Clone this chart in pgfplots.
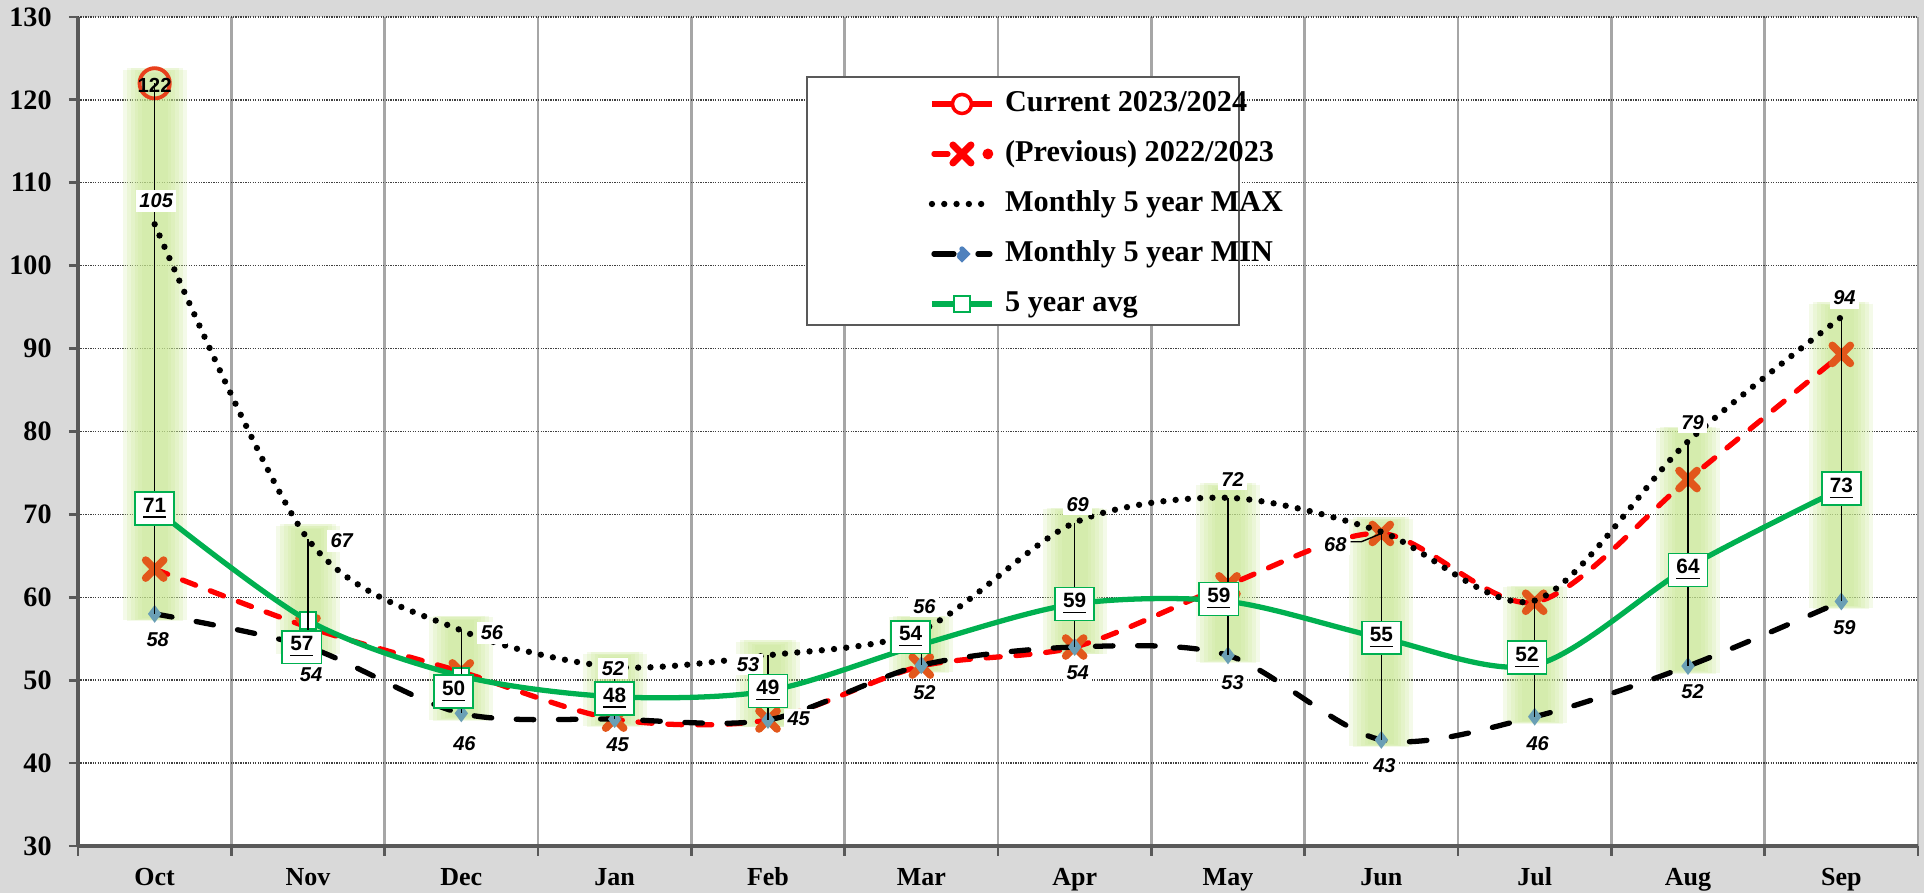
\documentclass[border=0pt]{standalone}
\usepackage{fontspec}
\setmainfont{Liberation Serif}
\newfontfamily\lsans{Liberation Sans}
\usepackage{pgfplots}
\usepackage{pgfplotstable}
\pgfplotsset{compat=1.18}
\definecolor{bgGray}{HTML}{D9D9D9}
\definecolor{axGray}{HTML}{595959}
\definecolor{gridV}{HTML}{A6A6A6}
\definecolor{gridH}{HTML}{404040}
\definecolor{curRed}{HTML}{E8401C}
\definecolor{prevRed}{HTML}{FF0000}
\definecolor{xOrange}{HTML}{E2571B}
\definecolor{avgGreen}{HTML}{00B050}
\definecolor{minDia}{HTML}{6A9FB5}
\definecolor{legDia}{HTML}{4F81BD}
\definecolor{glow}{HTML}{C8E891}

% month index, current season, previous season, 5y max, 5y min, 5y avg, top of hi-lo line
\pgfplotstableread{
x  cur  prev  max   min   avg   hi
0  122  63.4  105   58.0  70.7  122
1  nan  56.4  67    54.0  57.2  67
2  nan  51.0  56    46.0  50.5  56
3  nan  45.3  51.6  45.3  48.0  51.6
4  nan  45.2  53    45.2  48.7  53
5  nan  51.7  56    51.8  54.3  56
6  nan  54.0  69    54.0  59.2  69
7  nan  61.5  72    53.0  59.5  72
8  nan  67.7  67.9  42.8  55.1  67.9
9  nan  59.4  59.6  45.6  51.8  59.6
10 nan  74.2  78.8  51.7  63.6  78.8
11 nan  89.3  93.8  59.5  73.1  93.8
}\data

\tikzset{
  mlbl/.style={fill=white, inner sep=1pt, font=\lsans\bfseries\itshape\fontsize{5.7}{6}\selectfont},
  albl/.style={fill=white, draw=avgGreen, line width=0.5pt, inner xsep=2.3pt, inner ysep=1.6pt,
               font=\lsans\bfseries\fontsize{5.9}{6}\selectfont},
}
\pgfplotsset{
  glowbar/.style={draw=none, mark=none, forget plot,
    error bars/.cd, y dir=minus, y explicit, error mark=none,
    error bar style={draw=glow, line width=#1, draw opacity=0.2}},
}

\begin{document}
\begin{tikzpicture}
\path[use as bounding box, fill=bgGray] (0,0) rectangle (192.4mm,89.3mm);
\begin{axis}[
  at={(7.8mm,4.7mm)}, anchor=south west,
  scale only axis, width=184mm, height=82.9mm,
  xmin=-0.5, xmax=11.5, ymin=30, ymax=130,
  clip=false, clip marker paths=true,
  axis background/.style={fill=white},
  axis x line*=bottom, axis y line*=left,
  axis line style={axGray, line width=1pt, -},
  xtick={0,...,11},
  xticklabels={Oct,Nov,Dec,Jan,Feb,Mar,Apr,May,Jun,Jul,Aug,Sep},
  minor xtick={-0.5,0.5,...,11.5},
  ytick={30,40,...,130},
  tick align=outside,
  major x tick style={draw=none},
  minor tick length=1mm, major tick length=0.9mm,
  tick style={axGray, line width=0.8pt},
  xminorgrids=true, ymajorgrids=true,
  minor grid style={gridV, line width=0.7pt, solid},
  major grid style={gridH, line width=0.4pt, dash pattern=on 0.35pt off 0.35pt},
  /pgf/number format/assume math mode=true,
  yticklabel style={font=\bfseries\fontsize{8}{9}\selectfont, xshift=-0.5mm},
  xticklabel style={font=\bfseries\fontsize{7.4}{8}\selectfont, anchor=base, yshift=-3.1mm},
  legend cell align=left,
  legend style={draw=none, fill=none, at={(0.462,0.914)}, anchor=north west,
    inner sep=0pt, row sep=2.0mm, column sep=1mm,
    nodes={inner sep=0pt, text height=2.3mm, text depth=0.7mm},
    font=\bfseries\fontsize{8.6}{9}\selectfont},
]
% soft glow behind the high-low lines
\addplot[glowbar=6.4mm] table[x=x, y expr=\thisrow{hi}+1.6, y error minus expr=\thisrow{hi}-\thisrow{min}+2.4] {\data};
\addplot[glowbar=5.6mm] table[x=x, y expr=\thisrow{hi}+1.8, y error minus expr=\thisrow{hi}-\thisrow{min}+2.7] {\data};
\addplot[glowbar=4.8mm] table[x=x, y expr=\thisrow{hi}+1.8, y error minus expr=\thisrow{hi}-\thisrow{min}+2.6] {\data};
\addplot[glowbar=4.0mm] table[x=x, y expr=\thisrow{hi}+1.6, y error minus expr=\thisrow{hi}-\thisrow{min}+2.3] {\data};
\addplot[glowbar=3.3mm] table[x=x, y expr=\thisrow{hi}+1.4, y error minus expr=\thisrow{hi}-\thisrow{min}+2.0] {\data};
\addplot[glowbar=2.6mm] table[x=x, y expr=\thisrow{hi}+1.2, y error minus expr=\thisrow{hi}-\thisrow{min}+1.7] {\data};

\addplot[prevRed, line width=1.5pt, mark=o, mark size=4.3pt,
  mark options={draw=curRed, fill=white, line width=1.1pt, solid},
  legend image code/.code={
    \draw[prevRed, line width=1.5pt] (0mm,0mm) -- (6mm,0mm);
    \draw[prevRed, fill=white, line width=1pt] (3mm,0mm) circle (0.95mm);}]
  table[x=x, y=cur] {\data};
\addlegendentry{Current 2023/2024}

\addplot[prevRed, line width=1.5pt, smooth, line cap=round, dash pattern=on 4pt off 4.5pt,
  mark=x, mark size=3.6pt, mark options={draw=xOrange, line width=2.2pt, solid},
  legend image code/.code={
    \draw[prevRed, line width=1.5pt, line cap=round, solid] (0.2mm,0mm) -- (1.6mm,0mm);
    \fill[prevRed] (5.6mm,0mm) circle (0.75pt);
    \draw[prevRed, line width=2pt, solid] (2.1mm,-0.9mm) -- (3.9mm,0.9mm) (2.1mm,0.9mm) -- (3.9mm,-0.9mm);}]
  table[x=x, y=prev] {\data};
\addlegendentry{(Previous) 2022/2023}

\addplot[black, line width=1.8pt, smooth, line cap=round, dash pattern=on 0pt off 3.5pt]
  table[x=x, y=max] {\data};
\addlegendentry{Monthly 5 year MAX}

\addplot[black, line width=1.5pt, smooth, line cap=round, dash pattern=on 5pt off 7pt,
  mark=diamond*, mark size=1.3pt, mark options={draw=minDia, fill=minDia, solid},
  legend image code/.code={
    \draw[black, line width=1.5pt, line cap=round, solid] (0.2mm,0mm) -- (2.2mm,0mm) (4.6mm,0mm) -- (5.8mm,0mm);
    \fill[legDia] (3mm,0.5mm) -- (3.5mm,0mm) -- (3mm,-0.5mm) -- (2.5mm,0mm) -- cycle;}]
  table[x=x, y=min] {\data};
\addlegendentry{Monthly 5 year MIN}

\addplot[avgGreen, line width=1.5pt, smooth,
  mark=square*, mark size=2.3pt, mark options={draw=avgGreen, fill=white, line width=0.6pt},
  legend image code/.code={
    \draw[avgGreen, line width=1.5pt] (0mm,0mm) -- (6mm,0mm);
    \draw[avgGreen, fill=white, line width=0.7pt] (2.2mm,-0.8mm) rectangle (3.8mm,0.8mm);}]
  table[x=x, y=avg] {\data};
\addlegendentry{5 year avg}

% thin high-low lines
\addplot[draw=none, mark=none, forget plot, error bars/.cd, y dir=minus, y explicit, error mark=none,
  error bar style={draw=black, line width=0.45pt}]
  table[x=x, y=hi, y error minus expr=\thisrow{hi}-\thisrow{min}] {\data};

% legend frame
\draw[axGray, fill=white, line width=0.6pt] (rel axis cs:0.396,0.628) rectangle (rel axis cs:0.631,0.928);

% labels of the 5 year max
\node[mlbl] at (axis cs:0.01,107.8) {105};
\node[mlbl] at (axis cs:1.22,66.8) {67};
\node[mlbl] at (axis cs:2.20,55.7) {56};
\node[mlbl] at (axis cs:2.99,51.4) {52};
\node[mlbl] at (axis cs:3.87,51.9) {53};
\node[mlbl] at (axis cs:5.02,58.9) {56};
\node[mlbl] at (axis cs:6.02,71.2) {69};
\node[mlbl] at (axis cs:7.03,74.2) {72};
\node[mlbl] at (axis cs:7.70,66.4) {68};
\draw[black, line width=0.4pt] (axis cs:7.80,66.7) -- (axis cs:7.87,66.7) -- (axis cs:8,67.7);
\node[mlbl] at (axis cs:10.03,81.1) {79};
\node[mlbl] at (axis cs:11.02,96.1) {94};
% labels of the 5 year min
\node[mlbl] at (axis cs:0.02,54.9) {58};
\node[mlbl] at (axis cs:1.02,50.6) {54};
\node[mlbl] at (axis cs:2.02,42.4) {46};
\node[mlbl] at (axis cs:3.02,42.2) {45};
\node[mlbl] at (axis cs:4.20,45.3) {45};
\node[mlbl] at (axis cs:5.02,48.5) {52};
\node[mlbl] at (axis cs:6.02,50.9) {54};
\node[mlbl] at (axis cs:7.03,49.7) {53};
\node[mlbl] at (axis cs:8.02,39.7) {43};
\node[mlbl] at (axis cs:9.02,42.4) {46};
\node[mlbl] at (axis cs:10.03,48.6) {52};
\node[mlbl] at (axis cs:11.02,56.3) {59};
% labels of the 5 year average
\node[albl] at (axis cs:0.00,70.7) {\underline{71}};
\node[albl] at (axis cs:0.96,54.0) {\underline{57}};
\node[albl] at (axis cs:1.95,48.6) {\underline{50}};
\node[albl] at (axis cs:3.00,47.8) {\underline{48}};
\node[albl] at (axis cs:4.00,48.7) {\underline{49}};
\node[albl] at (axis cs:4.93,55.2) {\underline{54}};
\node[albl] at (axis cs:6.00,59.2) {\underline{59}};
\node[albl] at (axis cs:6.94,59.8) {\underline{59}};
\node[albl] at (axis cs:8.00,55.1) {\underline{55}};
\node[albl] at (axis cs:8.95,52.7) {\underline{52}};
\node[albl] at (axis cs:10.00,63.3) {\underline{64}};
\node[albl] at (axis cs:11.00,73.1) {\underline{73}};
% current season label
\node[font=\lsans\bfseries\fontsize{5.8}{6}\selectfont, inner sep=0pt] at (axis cs:0,121.8) {122};
\end{axis}
\end{tikzpicture}
\end{document}
